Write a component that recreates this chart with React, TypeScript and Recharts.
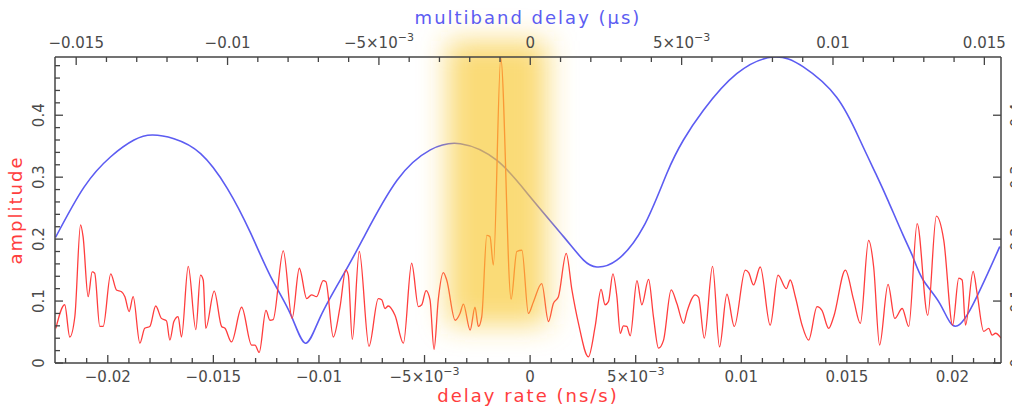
import React from "react";
import { LineChart, Line, XAxis, YAxis, ReferenceArea } from "recharts";

// fringe amplitude vs delay rate (ns/s)
const rateX = [
  -0.02246, -0.02204, -0.0218, -0.02156, -0.02129, -0.02117, -0.02093, -0.02074, -0.02062, -0.02038,
  -0.02022, -0.01986, -0.01959, -0.01935, -0.01919, -0.01899, -0.0188, -0.01848, -0.01825, -0.01801,
  -0.01773, -0.01746, -0.01722, -0.01706, -0.01687, -0.01667, -0.01651, -0.01619, -0.01583, -0.01561,
  -0.01548, -0.01536, -0.01496, -0.01461, -0.01445, -0.01414, -0.01366, -0.01319, -0.01303, -0.01283,
  -0.01251, -0.01232, -0.01217, -0.01169, -0.01127, -0.01093, -0.01058, -0.01035, -0.01011, -0.0098,
  -0.00967, -0.00932, -0.009, -0.00873, -0.00861, -0.00842, -0.00809, -0.00763, -0.00719, -0.00703,
  -0.00687, -0.00672, -0.0064, -0.006, -0.00561, -0.00529, -0.00513, -0.00493, -0.00474, -0.00455,
  -0.00435, -0.00411, -0.00395, -0.00355, -0.00332, -0.00316, -0.00284, -0.00261, -0.00245, -0.00229,
  -0.00205, -0.0019, -0.00174, -0.00139, -0.0009, -0.00063, -0.00039, -0.00008, 0.00016, 0.00055,
  0.00087, 0.0011, 0.00134, 0.00171, 0.00198, 0.00229, 0.00276, 0.00308, 0.00336, 0.00355,
  0.00371, 0.00392, 0.00411, 0.00427, 0.00442, 0.00458, 0.00474, 0.00506, 0.00529, 0.00561,
  0.00584, 0.00608, 0.00632, 0.00668, 0.00695, 0.00727, 0.00743, 0.00782, 0.00798, 0.00825,
  0.00864, 0.00897, 0.00932, 0.00967, 0.01019, 0.01035, 0.01058, 0.0109, 0.01137, 0.01174,
  0.01213, 0.01232, 0.01256, 0.01288, 0.01319, 0.01359, 0.01382, 0.01414, 0.01438, 0.01493,
  0.01532, 0.01564, 0.01603, 0.01627, 0.01655, 0.01695, 0.01727, 0.01762, 0.01793, 0.01833,
  0.01883, 0.01924, 0.01959, 0.02001, 0.0203, 0.02046, 0.02062, 0.02098, 0.02117, 0.02148,
  0.02172, 0.02188, 0.02204, 0.02231,
];
const rateAmp = [
  0.056, 0.094, 0.042, 0.075, 0.223, 0.204, 0.107, 0.147, 0.145, 0.059,
  0.059, 0.144, 0.118, 0.115, 0.107, 0.083, 0.107, 0.032, 0.056, 0.059,
  0.092, 0.072, 0.068, 0.037, 0.067, 0.075, 0.042, 0.156, 0.054, 0.142,
  0.134, 0.056, 0.116, 0.059, 0.056, 0.034, 0.09, 0.029, 0.029, 0.017,
  0.085, 0.069, 0.07, 0.181, 0.072, 0.153, 0.104, 0.11, 0.107, 0.133,
  0.131, 0.042, 0.091, 0.15, 0.142, 0.038, 0.18, 0.027, 0.104, 0.102,
  0.088, 0.092, 0.077, 0.032, 0.161, 0.091, 0.094, 0.117, 0.102, 0.022,
  0.102, 0.146, 0.134, 0.069, 0.08, 0.095, 0.053, 0.09, 0.059, 0.075,
  0.206, 0.204, 0.158, 0.492, 0.103, 0.18, 0.182, 0.08, 0.099, 0.128,
  0.067, 0.096, 0.107, 0.177, 0.118, 0.064, 0.01, 0.059, 0.119, 0.094,
  0.099, 0.144, 0.107, 0.048, 0.06, 0.059, 0.044, 0.133, 0.094, 0.135,
  0.075, 0.024, 0.037, 0.118, 0.096, 0.064, 0.083, 0.11, 0.106, 0.04,
  0.156, 0.026, 0.111, 0.059, 0.15, 0.146, 0.126, 0.155, 0.061, 0.142,
  0.12, 0.134, 0.107, 0.061, 0.037, 0.091, 0.085, 0.056, 0.075, 0.15,
  0.102, 0.064, 0.198, 0.155, 0.029, 0.127, 0.072, 0.088, 0.059, 0.225,
  0.077, 0.237, 0.198, 0.061, 0.137, 0.134, 0.061, 0.148, 0.112, 0.051,
  0.056, 0.045, 0.048, 0.04,
];

// fringe amplitude vs multiband delay (µs)
const delayX = [
  -0.01568, -0.01474, -0.01386, -0.01309, -0.01249, -0.01177, -0.01089, -0.01001, -0.00924, -0.00858,
  -0.00792, -0.00743, -0.00693, -0.00617, -0.00551, -0.0044, -0.0033, -0.00231, -0.0011, 0,
  0.0011, 0.00176, 0.0022, 0.00286, 0.00374, 0.00451, 0.00506, 0.00572, 0.00682, 0.00803,
  0.00902, 0.01012, 0.01089, 0.01144, 0.01183, 0.01232, 0.01265, 0.01298, 0.01353, 0.01395,
  0.01452, 0.01551,
];
const delayAmp = [
  0.203, 0.284, 0.333, 0.36, 0.368, 0.362, 0.338, 0.282, 0.21, 0.14,
  0.079, 0.032, 0.075, 0.143, 0.202, 0.295, 0.344, 0.354, 0.327, 0.268,
  0.204, 0.166, 0.155, 0.166, 0.22, 0.306, 0.36, 0.408, 0.467, 0.494,
  0.478, 0.429, 0.36, 0.303, 0.261, 0.206, 0.17, 0.134, 0.096, 0.061,
  0.085, 0.188,
];

const rateMajor = [-0.02, -0.015, -0.01, -0.005, 0, 0.005, 0.01, 0.015, 0.02];
const delayMajor = [-0.015, -0.01, -0.005, 0, 0.005, 0.01, 0.015];
const ampMajor = [0, 0.1, 0.2, 0.3, 0.4];
// highlighted fringe window: delay rate from/to, amplitude from/to
const fringeRate = [-0.0039, 0.0008];
const fringeAmp = [0.062, 0.52];

const rateData = rateX.map((x, i) => ({ x, amp: rateAmp[i] }));
const delayData = delayX.map((x, i) => ({ x, amp: delayAmp[i] }));

const minorTicks = (lo: number, hi: number, step: number) => {
  const out: number[] = [];
  for (let k = Math.ceil(lo / step - 1e-9); k * step <= hi + 1e-12; k++) out.push(+(k * step).toFixed(6));
  return out;
};
const rateTicks = minorTicks(-0.0225, 0.0223, 0.001);
const delayTicks = minorTicks(-0.0156, 0.0155, 0.001);
const ampTicks = minorTicks(0, 0.49, 0.02);

const FONT = "'DejaVu Sans', Verdana, sans-serif";
const AXIS = "#444";
const TICKTEXT = "#4a4a4a";
const RED = "#ff3d3d";
const BLUE = "#5c5cf2";

const isMajor = (v: number, majors: number[]) => majors.some((m) => Math.abs(m - v) < 1e-9);

const Lbl = ({ v }: { v: number }) => {
  const s = v < 0 ? "\u2212" : "";
  const a = Math.abs(v);
  if (Math.abs(a - 0.005) < 1e-9)
    return (
      <>
        <tspan>{s}5×10</tspan>
        <tspan dy={-7} fontSize={11}>{"\u22123"}</tspan>
      </>
    );
  return <tspan>{a === 0 ? "0" : s + String(a)}</tspan>;
};

const XTick = (props: any) => {
  const { x, y, payload, side, majors } = props;
  const v = payload.value;
  const major = isMajor(v, majors);
  const dir = side === "top" ? 1 : -1;
  const len = major ? 8 : 5;
  return (
    <g>
      <line x1={x} x2={x} y1={y} y2={y + dir * len} stroke={AXIS} strokeWidth={1.3} />
      {major && (
        <text x={x} y={y - dir * 14} dy="0.36em" textAnchor="middle" fontSize={15} fontFamily={FONT} fill={TICKTEXT}>
          <Lbl v={v} />
        </text>
      )}
    </g>
  );
};

const YTick = (props: any) => {
  const { x, y, payload, side } = props;
  const v = payload.value;
  const major = isMajor(v, ampMajor);
  const dir = side === "left" ? 1 : -1;
  const len = major ? 8 : 5;
  const cx = x - dir * 16;
  if (side === "right" && !major) return null;
  return (
    <g>
      <line x1={x} x2={x + dir * len} y1={y} y2={y} stroke={AXIS} strokeWidth={1.3} />
      {major && (
        <text
          x={cx}
          y={y}
          dy="0.36em"
          textAnchor="middle"
          transform={`rotate(-90, ${cx}, ${y})`}
          fontSize={15}
          fontFamily={FONT}
          fill={TICKTEXT}
        >
          {v === 0 ? "0" : String(v)}
        </text>
      )}
    </g>
  );
};

const Title = ({ text, color, kind }: { text: string; color: string; kind: string }) => (props: any) => {
  const vb = props.viewBox;
  const common = { fontSize: 18, fontFamily: FONT, fill: color, letterSpacing: 2, textAnchor: "middle" as const };
  if (kind === "left") {
    const cx = vb.x + 22;
    const cy = vb.y + vb.height / 2;
    return (
      <text x={cx} y={cy} transform={`rotate(-90, ${cx}, ${cy})`} {...common}>
        {text}
      </text>
    );
  }
  const y = kind === "top" ? vb.y + 24 : vb.y + 39;
  return (
    <text x={vb.x + vb.width / 2} y={y} {...common}>
      {text}
    </text>
  );
};

const Glow = (p: any) => (
  <g>
    <defs>
      <filter id="fringeGlow" x="-100%" y="-40%" width="300%" height="180%">
        <feGaussianBlur stdDeviation="14" />
      </filter>
    </defs>
    <rect x={p.x} y={p.y} width={p.width} height={p.height} fill="#f7c832" fillOpacity={0.66} filter="url(#fringeGlow)" />
  </g>
);

export default function App() {
  return (
    <div style={{ position: "absolute", left: 0, top: 0, background: "#fff" }}>
      <LineChart width={1012} height={408} margin={{ top: 0, right: 0, bottom: 0, left: 0 }}>
        <XAxis
          xAxisId="rate"
          type="number"
          dataKey="x"
          orientation="bottom"
          domain={[-0.0225, 0.0223]}
          allowDataOverflow
          ticks={rateTicks}
          interval={0}
          height={45}
          tickSize={0}
          tickMargin={0}
          tickLine={false}
          axisLine={{ stroke: AXIS, strokeWidth: 1.5 }}
          tick={<XTick side="bottom" majors={rateMajor} />}
          label={{ content: Title({ text: "delay rate (ns/s)", color: RED, kind: "bottom" }) }}
        />
        <XAxis
          xAxisId="delay"
          type="number"
          dataKey="x"
          orientation="top"
          domain={[-0.0157, 0.01555]}
          allowDataOverflow
          ticks={delayTicks}
          interval={0}
          height={57}
          tickSize={0}
          tickMargin={0}
          tickLine={false}
          axisLine={{ stroke: AXIS, strokeWidth: 1.5 }}
          tick={<XTick side="top" majors={delayMajor} />}
          label={{ content: Title({ text: "multiband delay (\u00b5s)", color: BLUE, kind: "top" }) }}
        />
        <YAxis
          yAxisId="amp"
          type="number"
          orientation="left"
          domain={[0, 0.494]}
          allowDataOverflow
          ticks={ampTicks}
          interval={0}
          width={55}
          tickSize={0}
          tickMargin={0}
          tickLine={false}
          axisLine={{ stroke: AXIS, strokeWidth: 1.5 }}
          tick={<YTick side="left" />}
          label={{ content: Title({ text: "amplitude", color: RED, kind: "left" }) }}
        />
        <YAxis
          yAxisId="ampR"
          type="number"
          orientation="right"
          domain={[0, 0.494]}
          allowDataOverflow
          ticks={ampMajor}
          interval={0}
          width={11}
          tickSize={0}
          tickMargin={0}
          tickLine={false}
          axisLine={{ stroke: AXIS, strokeWidth: 1.5 }}
          tick={<YTick side="right" />}
        />
        <Line
          xAxisId="delay"
          yAxisId="amp"
          data={delayData}
          dataKey="amp"
          type="natural"
          stroke={BLUE}
          strokeWidth={1.6}
          dot={false}
          isAnimationActive={false}
        />
        <Line
          xAxisId="rate"
          yAxisId="amp"
          data={rateData}
          dataKey="amp"
          type="monotone"
          stroke={RED}
          strokeWidth={1.3}
          dot={false}
          isAnimationActive={false}
        />
        <ReferenceArea
          xAxisId="rate"
          yAxisId="amp"
          x1={fringeRate[0]}
          x2={fringeRate[1]}
          y1={fringeAmp[0]}
          y2={fringeAmp[1]}
          ifOverflow="visible"
          zIndex={450}
          shape={Glow}
        />
      </LineChart>
    </div>
  );
}
